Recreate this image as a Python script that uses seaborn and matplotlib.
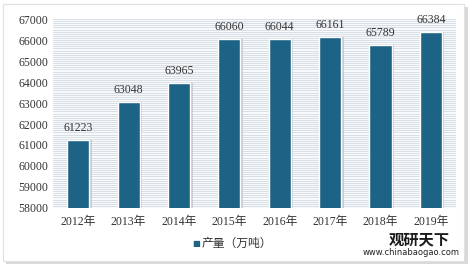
import matplotlib.pyplot as plt
import seaborn as sns
import pandas as pd
from matplotlib.patches import FancyBboxPatch

years = ['2012年', '2013年', '2014年', '2015年', '2016年', '2017年', '2018年', '2019年']
output = [61223, 63048, 63965, 66060, 66044, 66161, 65789, 66384]
series_name = '产量（万吨）'

df = pd.DataFrame({'year': years, 'value': output})

sns.set_style('white')
plt.rcParams['font.family'] = ['Liberation Serif', 'Noto Sans CJK SC', 'DejaVu Sans']

fig = plt.figure(figsize=(4.74, 2.69), dpi=100)
# outer frame with soft shadow
fig.patches.append(FancyBboxPatch((0.012, 0.02), 0.975, 0.955, boxstyle='square,pad=0',
                                  transform=fig.transFigure, facecolor='#d9d9d9',
                                  edgecolor='none', zorder=-2))
fig.patches.append(FancyBboxPatch((0.006, 0.03), 0.972, 0.955, boxstyle='square,pad=0',
                                  transform=fig.transFigure, facecolor='white',
                                  edgecolor='#e0e0e0', lw=0.8, zorder=-1))

ax = fig.add_axes([0.112, 0.227, 0.85, 0.702])
ax.set_zorder(2)
ax.set_facecolor('#f7f9fb')

# dense striped background
for v in range(58000, 67001, 100):
    ax.axhline(v, color='#d3dbe3', lw=0.6, zorder=0)

# shadow bars
sns.barplot(data=df, x='year', y='value', color='#a9b0b6', width=0.46,
            saturation=1, ax=ax, zorder=1, alpha=0.5)
for p in ax.patches:
    p.set_x(p.get_x() + 0.04)
    p.set_edgecolor('none')
sns.barplot(data=df, x='year', y='value', color='#1d6385', width=0.44,
            saturation=1, ax=ax, zorder=2)

ax.set_ylim(58000, 67000)
ax.set_yticks(range(58000, 67001, 1000))
ax.set_xlim(-0.5, 7.5)
for s in ax.spines.values():
    s.set_visible(False)
ax.set_xlabel('')
ax.set_ylabel('')
ax.tick_params(axis='both', length=0, labelsize=8.5, colors='#333333')
ax.tick_params(axis='x', pad=6)

for i, v in enumerate(output):
    ax.text(i, v + 280, str(v), ha='center', va='bottom', fontsize=8.5, color='#333333')

# legend
fig.text(0.405, 0.095, '■', color='#1d6385', fontsize=6, va='center',
         family=['DejaVu Sans'])
fig.text(0.425, 0.095, series_name, color='#333333', fontsize=8.5, va='center')

# watermark
fig.text(0.885, 0.11, '观研天下', fontsize=11, fontweight='bold', color='#1a1a1a',
         ha='center', va='center', family=['Noto Sans CJK SC'])
fig.text(0.868, 0.062, 'www.chinabaogao.com', fontsize=6, color='#222222',
         ha='center', va='center', family=['DejaVu Sans'])

plt.savefig('out.png', dpi=100)
